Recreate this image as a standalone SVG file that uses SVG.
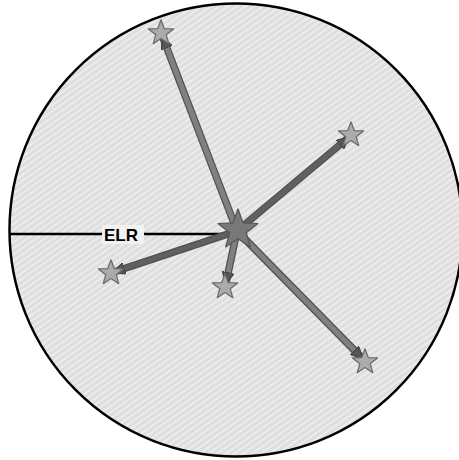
<svg xmlns="http://www.w3.org/2000/svg" width="459" height="460" viewBox="0 0 459 460">
<defs>
<pattern id="hatch" width="5" height="5" patternUnits="userSpaceOnUse" patternTransform="rotate(55)">
<rect width="5" height="5" fill="#dedede"/>
<rect width="2.2" height="5" fill="#ececec"/>
</pattern>
<polygon id="star" points="0,-12 2.94,-4.05 11.41,-3.71 4.76,1.55 7.05,9.71 0,5 -7.05,9.71 -4.76,1.55 -11.41,-3.71 -2.94,-4.05"/>
<marker id="ah" viewBox="0 0 10 10" refX="9" refY="5" markerWidth="12" markerHeight="12" markerUnits="userSpaceOnUse" orient="auto">
<path d="M0,0 L10,5 L0,10 Z" fill="#555" stroke="#444" stroke-width="1"/>
</marker>
<style>
.edge-out{stroke:#505050;stroke-width:7.5;stroke-linecap:butt;fill:none}
.edge{stroke-width:5;fill:none;stroke-linecap:butt}
.mid{stroke:#808080}
.dark{stroke:#606060}
.st{fill:#ababab;stroke:#6a6a6a;stroke-width:1.1;stroke-linejoin:round}
.big{fill:#787878;stroke:#555;stroke-width:0.7;stroke-linejoin:round}
.lbl{font-family:"Liberation Sans",Arial,sans-serif;font-weight:bold;font-size:17px;fill:#000}
</style>
</defs>
<rect width="459" height="460" fill="#ffffff"/>
<circle id="region" cx="236" cy="230" r="226.5" fill="url(#hatch)" stroke="#000" stroke-width="2.5"/>
<g id="connectors">
<line x1="10" y1="234" x2="228" y2="234" stroke="#000" stroke-width="2.5"/>
<rect x="102" y="225" width="42" height="19" fill="#f2f2f2"/>
<text class="lbl" x="104" y="241">ELR</text>
<line class="edge-out" x1="237" y1="231" x2="163" y2="38"/>
<line class="edge mid" x1="237" y1="231" x2="163" y2="38" marker-end="url(#ah)"/>
<line class="edge-out" x1="237" y1="231" x2="362" y2="358"/>
<line class="edge mid" x1="237" y1="231" x2="362" y2="358" marker-end="url(#ah)"/>
<line class="edge-out" x1="237" y1="231" x2="226" y2="283"/>
<line class="edge mid" x1="237" y1="231" x2="226" y2="283" marker-end="url(#ah)"/>
<line class="edge-out" x1="237" y1="231" x2="348" y2="138"/>
<line class="edge dark" x1="237" y1="231" x2="348" y2="138" marker-end="url(#ah)"/>
<line class="edge-out" x1="237" y1="231" x2="114" y2="272"/>
<line class="edge dark" x1="237" y1="231" x2="114" y2="272" marker-end="url(#ah)"/>
</g>
<g id="star-top"><use href="#star" class="st" transform="translate(161,33) scale(1.1)"/></g>
<g id="star-right"><use href="#star" class="st" transform="translate(351,135) scale(1.1)"/></g>
<g id="star-bottom-right"><use href="#star" class="st" transform="translate(365,362) scale(1.1)"/></g>
<g id="star-left"><use href="#star" class="st" transform="translate(111,273) scale(1.1)"/></g>
<g id="star-bottom"><use href="#star" class="st" transform="translate(225,287) scale(1.1)"/></g>
<g id="star-center"><use href="#star" class="big" transform="translate(238,230) scale(1.75)"/></g>
</svg>
